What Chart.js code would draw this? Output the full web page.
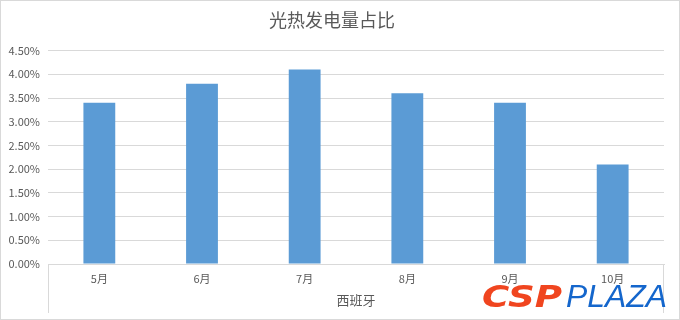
<!DOCTYPE html>
<html>
<head>
<meta charset="utf-8">
<script src="https://cdn.jsdelivr.net/npm/chart.js@4/dist/chart.umd.min.js"></script>
<style>
  html, body { margin: 0; padding: 0; background: #ffffff; }
  #wrap { width: 680px; height: 320px; }
</style>
</head>
<body>
<div id="wrap"><canvas id="c" width="680" height="320"></canvas></div>
<script>
// Monthly share of solar-thermal (CSP) generation, Spain
const months = ['5月', '6月', '7月', '8月', '9月', '10月'];
const shares = [3.4, 3.8, 4.1, 3.6, 3.4, 2.1];
const seriesName = '西班牙';
const chartTitle = '光热发电量占比';
const yMax = 4.5;
const yStep = 0.5;

const FONT = '"Noto Sans CJK SC", "Microsoft YaHei", sans-serif';
const GRID = '#d9d9d9';
const TEXT = '#595959';

// Frame around the whole chart, category-axis box lines and the brand mark
const decor = {
  id: 'decor',
  beforeDraw(chart) {
    const ctx = chart.ctx;
    ctx.save();
    ctx.fillStyle = '#ffffff';
    ctx.fillRect(0, 0, chart.width, chart.height);
    ctx.restore();
  },
  afterDraw(chart) {
    const ctx = chart.ctx;
    const a = chart.chartArea;
    ctx.save();
    ctx.strokeStyle = GRID;
    ctx.lineWidth = 1;
    ctx.beginPath();
    const l = Math.round(a.left) + 0.5, r = Math.round(a.right) - 0.5;
    ctx.moveTo(l, a.bottom); ctx.lineTo(l, 313);
    ctx.moveTo(r, a.bottom); ctx.lineTo(r, 313);
    ctx.stroke();
    ctx.strokeRect(0.5, 0.5, chart.width - 1, chart.height - 1);

    // brand mark: "CSP" heavy red, "PLAZA" light blue, both slanted
    const drawFit = (txt, font, color, x, yBase, w) => {
      ctx.font = font;
      const m = ctx.measureText(txt).width;
      ctx.save();
      ctx.translate(x, yBase);
      ctx.scale(w / m, 1);
      ctx.fillStyle = color;
      ctx.textBaseline = 'alphabetic';
      ctx.textAlign = 'left';
      ctx.fillText(txt, 0, 0);
      ctx.restore();
    };
    drawFit('CSP', 'italic 900 31px "DejaVu Sans", sans-serif', '#f0451f', 482, 307, 80);
    drawFit('PLAZA', 'italic 400 31px "Liberation Sans", sans-serif', '#1466cc', 566, 307, 101);
    ctx.restore();
  }
};

new Chart(document.getElementById('c'), {
  type: 'bar',
  data: {
    labels: months,
    datasets: [{
      label: seriesName,
      data: shares,
      backgroundColor: '#5b9bd5',
      borderWidth: 0,
      categoryPercentage: 1,
      barPercentage: 0.31
    }]
  },
  options: {
    responsive: false,
    devicePixelRatio: 1,
    animation: false,
    layout: { padding: { left: 0, right: 16, top: 0, bottom: 0 } },
    plugins: {
      legend: { display: false },
      tooltip: { enabled: false },
      title: {
        display: true,
        text: chartTitle,
        color: TEXT,
        font: { family: FONT, size: 18, weight: 'normal', lineHeight: 1.2 },
        padding: { top: 9, bottom: 20 }
      }
    },
    scales: {
      x: {
        grid: { display: false, drawTicks: false },
        border: { display: true, color: GRID },
        ticks: { color: TEXT, font: { family: FONT, size: 11 }, padding: 8, maxRotation: 0 },
        title: {
          display: true,
          text: seriesName,
          color: TEXT,
          font: { family: FONT, size: 13, lineHeight: 1.2 },
          padding: { top: 0, bottom: 12 }
        },
        afterFit(scale) { scale.height = 56; }
      },
      y: {
        min: 0,
        max: yMax,
        grid: { color: GRID, drawTicks: false },
        border: { display: false },
        ticks: {
          stepSize: yStep,
          color: TEXT,
          font: { family: FONT, size: 11 },
          padding: 8,
          callback: v => v.toFixed(2) + '%'
        },
        afterFit(scale) { scale.width = 48; }
      }
    }
  },
  plugins: [decor]
});
</script>
</body>
</html>
